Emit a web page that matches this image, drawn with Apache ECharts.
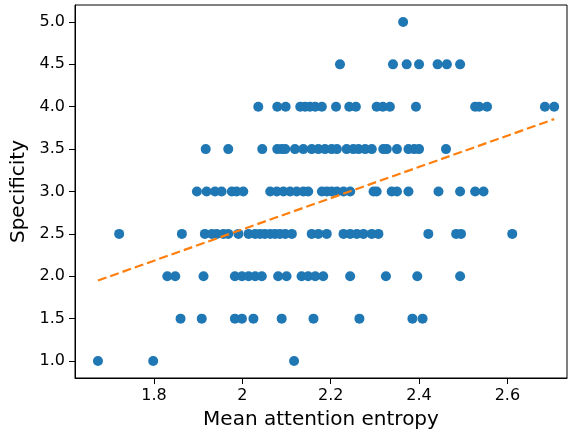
<!DOCTYPE html>
<html>
<head>
<meta charset="utf-8">
<script src="https://cdn.jsdelivr.net/npm/echarts@6/dist/echarts.min.js"></script>
<style>
html,body{margin:0;padding:0;background:#fff;}
#chart{width:577px;height:432px;}
</style>
</head>
<body>
<div id="chart"></div>
<script>
// Mean attention entropy values, grouped by specificity score
const entropyAt5_0 = [2.364];
const entropyAt4_5 = [2.221, 2.341, 2.372, 2.400, 2.442, 2.463, 2.493];
const entropyAt4_0 = [2.036, 2.079, 2.098, 2.131, 2.142, 2.153, 2.165, 2.180, 2.212, 2.242, 2.257, 2.304, 2.318, 2.334, 2.393, 2.527, 2.536, 2.554, 2.685, 2.706];
const entropyAt3_5 = [1.917, 1.968, 2.045, 2.079, 2.089, 2.097, 2.119, 2.138, 2.157, 2.172, 2.187, 2.202, 2.214, 2.236, 2.251, 2.263, 2.278, 2.293, 2.319, 2.327, 2.350, 2.376, 2.389, 2.400, 2.461];
const entropyAt3_0 = [1.897, 1.919, 1.938, 1.953, 1.976, 1.987, 2.002, 2.063, 2.078, 2.093, 2.108, 2.123, 2.138, 2.149, 2.180, 2.191, 2.202, 2.214, 2.229, 2.244, 2.297, 2.304, 2.338, 2.350, 2.376, 2.444, 2.493, 2.527, 2.546];
const entropyAt2_5 = [1.721, 1.863, 1.915, 1.931, 1.942, 1.957, 1.968, 1.991, 2.014, 2.029, 2.040, 2.051, 2.063, 2.074, 2.085, 2.097, 2.112, 2.157, 2.172, 2.191, 2.229, 2.244, 2.259, 2.274, 2.293, 2.308, 2.421, 2.484, 2.495, 2.611];
const entropyAt2_0 = [1.830, 1.848, 1.912, 1.983, 1.999, 2.014, 2.029, 2.044, 2.081, 2.100, 2.134, 2.149, 2.165, 2.183, 2.244, 2.325, 2.396, 2.493];
const entropyAt1_5 = [1.860, 1.908, 1.983, 1.999, 2.025, 2.089, 2.161, 2.265, 2.385, 2.408];
const entropyAt1_0 = [1.673, 1.798, 2.117];

const specificityLevels = [5.0, 4.5, 4.0, 3.5, 3.0, 2.5, 2.0, 1.5, 1.0];
const entropyGroups = [entropyAt5_0, entropyAt4_5, entropyAt4_0, entropyAt3_5, entropyAt3_0, entropyAt2_5, entropyAt2_0, entropyAt1_5, entropyAt1_0];

// Fitted trend line endpoints
const trendX = [1.673, 2.706];
const trendY = [1.95, 3.854];

// Ticks
const xTicks = [1.8, 2.0, 2.2, 2.4, 2.6];
const xTickLabels = ["1.8", "2", "2.2", "2.4", "2.6"];
const yTicks = [1.0, 1.5, 2.0, 2.5, 3.0, 3.5, 4.0, 4.5, 5.0];
const yTickLabels = ["1.0", "1.5", "2.0", "2.5", "3.0", "3.5", "4.0", "4.5", "5.0"];

const points = [];
specificityLevels.forEach((lvl, i) => {
  entropyGroups[i].forEach(x => points.push([x, lvl]));
});
const trend = trendX.map((x, i) => [x, trendY[i]]);

const font = 'DejaVu Sans';
const chart = echarts.init(document.getElementById('chart'), null, {renderer: 'canvas'});
chart.setOption({
  animation: false,
  backgroundColor: '#fff',
  grid: {left: 75, right: 10, top: 5, bottom: 54, show: true, borderColor: '#000', borderWidth: 1, backgroundColor: 'transparent', containLabel: false, outerBoundsMode: 'none'},
  xAxis: {
    type: 'value', min: 1.621, max: 2.735,
    name: 'Mean attention entropy', nameLocation: 'middle', nameGap: 32,
    nameTextStyle: {fontFamily: font, fontSize: 20, color: '#000'},
    axisLine: {show: true, lineStyle: {color: '#000', width: 1}},
    axisTick: {show: true, length: 6, lineStyle: {color: '#000'}, customValues: xTicks},
    axisLabel: {fontFamily: font, fontSize: 16, color: '#000', margin: 10, customValues: xTicks,
      formatter: v => { const i = xTicks.findIndex(t => Math.abs(t - v) < 1e-6); return i >= 0 ? xTickLabels[i] : ''; }},
    splitLine: {show: false}
  },
  yAxis: {
    type: 'value', min: 0.8, max: 5.2,
    name: 'Specificity', nameLocation: 'middle', nameGap: 42, nameRotate: 90,
    nameTextStyle: {fontFamily: font, fontSize: 20, color: '#000'},
    axisLine: {show: true, lineStyle: {color: '#000', width: 1}},
    axisTick: {show: true, length: 6, lineStyle: {color: '#000'}, customValues: yTicks},
    axisLabel: {fontFamily: font, fontSize: 16, color: '#000', margin: 10, customValues: yTicks,
      formatter: v => { const i = yTicks.findIndex(t => Math.abs(t - v) < 1e-6); return i >= 0 ? yTickLabels[i] : ''; }},
    splitLine: {show: false}
  },
  series: [
    {type: 'scatter', data: points, symbolSize: 10, itemStyle: {color: '#1f77b4', opacity: 1}, z: 2},
    {type: 'line', data: trend, showSymbol: false, symbol: 'none', lineStyle: {color: '#ff7f0e', width: 2.2, type: [9, 4]}, z: 3}
  ]
});
</script>
</body>
</html>
